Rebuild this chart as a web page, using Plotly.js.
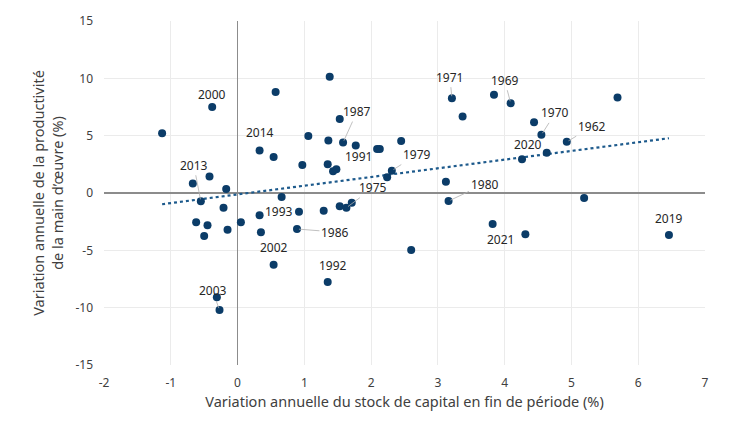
<!DOCTYPE html>
<html>
<head>
<meta charset="utf-8">
<script src="https://cdn.plot.ly/plotly-3.0.1.min.js"></script>
<style>html,body{margin:0;padding:0;background:#fff;}#chart{width:750px;height:422px;}</style>
</head>
<body>
<div id="chart"></div>
<script>
// Capital stock growth (%) — x values
const capitalGrowth = [
  -1.13, -0.38, -0.67, -0.42, -0.55, -0.17, -0.21, -0.62, -0.45, -0.50,
  -0.15, 0.05, -0.31, -0.27, 0.57, 1.38, 0.33, 0.54, 1.06, 1.36,
  1.53, 1.58, 0.97, 1.35, 1.43, 1.48, 0.66, 0.33, 0.35, 0.92,
  0.89, 1.29, 1.53, 1.63, 1.71, 0.54, 1.35, 1.77, 2.09, 2.13,
  2.45, 2.31, 2.24, 3.21, 3.37, 3.84, 4.09, 3.12, 3.16, 2.60,
  3.82, 4.44, 4.55, 4.93, 4.26, 4.63, 5.69, 5.19, 6.46, 4.31
];
// Labour productivity growth (%) — y values
const productivityGrowth = [
  5.20, 7.50, 0.82, 1.43, -0.72, 0.35, -1.28, -2.56, -2.82, -3.75,
  -3.20, -2.56, -9.10, -10.20, 8.80, 10.13, 3.70, 3.14, 4.98, 4.57,
  6.46, 4.40, 2.45, 2.50, 1.90, 2.07, -0.35, -1.95, -3.43, -1.63,
  -3.14, -1.54, -1.16, -1.28, -0.84, -6.26, -7.77, 4.14, 3.84, 3.84,
  4.54, 1.95, 1.37, 8.27, 6.67, 8.56, 7.83, 0.99, -0.70, -4.98,
  -2.70, 6.17, 5.07, 4.46, 2.94, 3.50, 8.33, -0.43, -3.67, -3.60
];
// Year labels for highlighted points ('' = unlabeled)
const yearLabels = [
  '', '2000', '', '', '2013', '', '', '', '', '',
  '', '', '', '2003', '', '', '2014', '', '', '',
  '', '1987', '', '', '', '', '', '1993', '', '',
  '1986', '', '', '1975', '', '2002', '1992', '1991', '', '',
  '', '1979', '', '1971', '', '', '1969', '', '1980', '',
  '2021', '', '1970', '1962', '2020', '', '', '', '2019', ''
];
const xTicks = [-2, -1, 0, 1, 2, 3, 4, 5, 6, 7];
const yTicks = [-15, -10, -5, 0, 5, 10, 15];

// label placement (pixel offsets); leader = draw connector line
const labelStyle = {
  '2000': {dx: 0, dy: -13, leader: false},
  '2013': {dx: -7, dy: -36, leader: true},
  '2003': {dx: -7, dy: -19, leader: true},
  '2014': {dx: 0, dy: -18, leader: false},
  '1987': {dx: 14, dy: -31, leader: true},
  '1993': {dx: 19, dy: -4, leader: false},
  '1986': {dx: 38, dy: 3, leader: true},
  '1975': {dx: 27, dy: -20, leader: true},
  '2002': {dx: 0, dy: -17, leader: false},
  '1992': {dx: 5, dy: -17, leader: false},
  '1991': {dx: 3, dy: 11, leader: false},
  '1979': {dx: 25, dy: -16, leader: true},
  '1971': {dx: -2, dy: -21, leader: true},
  '1969': {dx: -6, dy: -23, leader: true},
  '1980': {dx: 36, dy: -17, leader: true},
  '2021': {dx: 8, dy: 16, leader: false},
  '1970': {dx: 14, dy: -22, leader: true},
  '1962': {dx: 25, dy: -15, leader: true},
  '2020': {dx: 6, dy: -15, leader: false},
  '2019': {dx: 0, dy: -17, leader: false}
};

// linear trendline (least squares) computed from the data
const n = capitalGrowth.length;
let sx = 0, sy = 0, sxx = 0, sxy = 0;
for (let i = 0; i < n; i++) {
  sx += capitalGrowth[i]; sy += productivityGrowth[i];
  sxx += capitalGrowth[i] * capitalGrowth[i];
  sxy += capitalGrowth[i] * productivityGrowth[i];
}
const slope = (n * sxy - sx * sy) / (n * sxx - sx * sx);
const intercept = (sy - slope * sx) / n;
const xMin = Math.min(...capitalGrowth), xMax = Math.max(...capitalGrowth);

const navy = '#0b3c68';
const fontFam = 'Noto Sans, Open Sans, sans-serif';

const traces = [
  {
    x: [xMin, xMax],
    y: [intercept + slope * xMin, intercept + slope * xMax],
    mode: 'lines',
    line: {color: '#1d5a8c', width: 2.2, dash: 'dot'},
    hoverinfo: 'skip'
  },
  {
    x: capitalGrowth,
    y: productivityGrowth,
    mode: 'markers',
    marker: {color: navy, size: 8}
  }
];

const annotations = [];
for (let i = 0; i < n; i++) {
  const lab = yearLabels[i];
  if (!lab) continue;
  const s = labelStyle[lab];
  const base = {
    x: capitalGrowth[i], y: productivityGrowth[i], xref: 'x', yref: 'y',
    text: lab, font: {family: fontFam, size: 12, color: '#262626'}
  };
  if (s.leader) {
    annotations.push(Object.assign(base, {
      showarrow: true, arrowhead: 0, arrowwidth: 0.8, arrowcolor: '#b0b0b0',
      ax: s.dx, ay: s.dy, standoff: 2
    }));
  } else {
    annotations.push(Object.assign(base, {
      showarrow: false, xshift: s.dx, yshift: -s.dy
    }));
  }
}

const layout = {
  width: 750, height: 422,
  margin: {l: 104, r: 45, t: 21, b: 57},
  paper_bgcolor: '#ffffff', plot_bgcolor: '#ffffff',
  showlegend: false,
  font: {family: fontFam, size: 12, color: '#404040'},
  xaxis: {
    range: [-2, 7], tickvals: xTicks, ticktext: xTicks.map(String),
    showgrid: true, gridcolor: '#ebebeb', gridwidth: 1,
    zeroline: true, zerolinecolor: '#8c8c8c', zerolinewidth: 1.2,
    showline: false, ticks: '', ticklen: 0, ticklabelstandoff: 9,
    tickfont: {family: fontFam, size: 12, color: '#404040'},
    title: {text: 'Variation annuelle du stock de capital en fin de période (%)',
            font: {family: fontFam, size: 14.5, color: '#404040'}, standoff: 4}
  },
  yaxis: {
    range: [-15, 15], tickvals: yTicks, ticktext: yTicks.map(String),
    showgrid: true, gridcolor: '#ebebeb', gridwidth: 1,
    zeroline: true, zerolinecolor: '#8c8c8c', zerolinewidth: 1.2,
    showline: false, ticks: '', ticklen: 0, ticklabelstandoff: 10,
    tickfont: {family: fontFam, size: 12, color: '#404040'},
    title: {text: 'Variation annuelle de la productivité<br>de la main d’œuvre (%)',
            font: {family: fontFam, size: 14.5, color: '#404040'}, standoff: 8}
  },
  annotations: annotations
};

Plotly.newPlot('chart', traces, layout, {displayModeBar: false, staticPlot: true});
</script>
</body>
</html>
